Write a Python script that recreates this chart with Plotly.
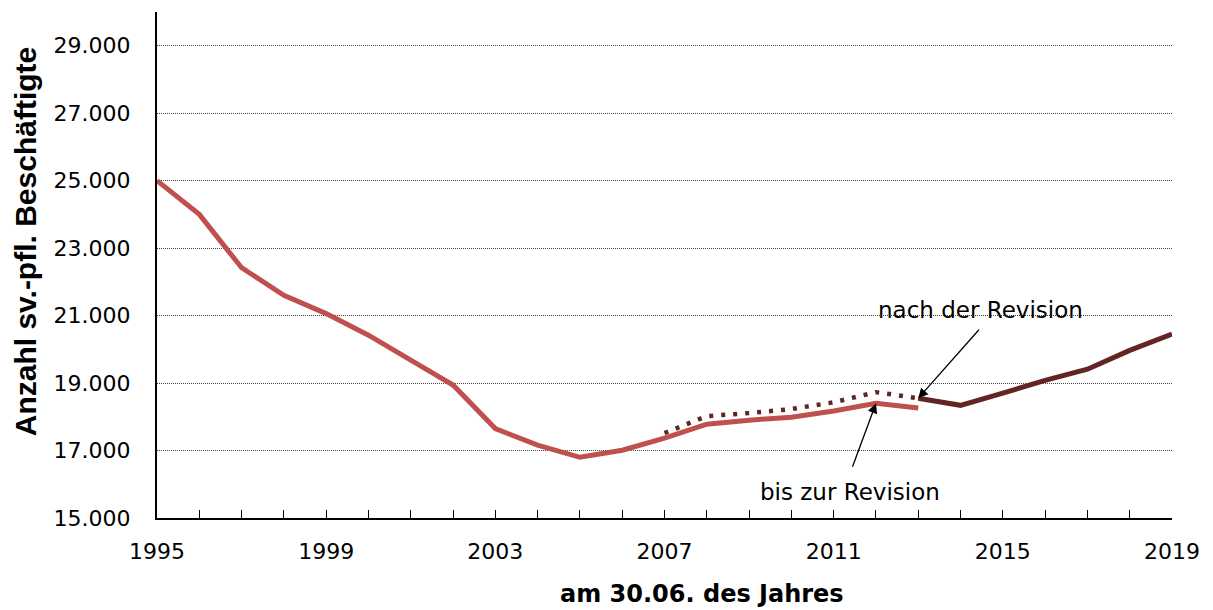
import plotly.graph_objects as go

years_old = list(range(1995, 2014))
values_old = [25000, 24000, 22420, 21600, 21060, 20420, 19680, 18940, 17650, 17160,
              16800, 17010, 17370, 17780, 17900, 17990, 18170, 18400, 18260]

years_rev = list(range(2007, 2014))
values_rev = [17520, 18020, 18110, 18230, 18430, 18730, 18550]

years_new = list(range(2013, 2020))
values_new = [18550, 18340, 18700, 19080, 19410, 19970, 20450]

y_ticks = [15000, 17000, 19000, 21000, 23000, 25000, 27000, 29000]
x_ticks = [1995, 1999, 2003, 2007, 2011, 2015, 2019]

RED = "#C0504D"
DARK = "#632523"
FONT = "DejaVu Sans, Liberation Sans, Arial, sans-serif"
FONT_T = "Liberation Sans, Arial, sans-serif"

fig = go.Figure()
fig.add_trace(go.Scatter(x=years_old, y=values_old, mode="lines",
                         line=dict(color=RED, width=5), showlegend=False))
fig.add_trace(go.Scatter(x=years_rev, y=values_rev, mode="lines",
                         line=dict(color=DARK, width=4.5, dash="4px,8px"), showlegend=False))
fig.add_trace(go.Scatter(x=years_new, y=values_new, mode="lines",
                         line=dict(color=DARK, width=5), showlegend=False))

fig.update_layout(
    width=1205, height=602,
    margin=dict(l=149, r=41, t=4, b=92),
    paper_bgcolor="white", plot_bgcolor="white",
    separators=",.",
    font=dict(family=FONT, size=22, color="black"),
    xaxis=dict(range=[1995, 2019], tickvals=x_ticks, ticks="inside", ticklen=8,
               tickcolor="black", tickwidth=1, showline=True, linecolor="black", linewidth=2,
               showgrid=False, zeroline=False, ticklabelstandoff=13,
               tickfont=dict(family=FONT, size=22),
               minor=dict(dtick=1, ticks="inside", ticklen=8, tickcolor="black",
                          tickwidth=1, showgrid=False)),
    yaxis=dict(range=[15000, 30000], tickvals=y_ticks, tickformat=",d", ticks="",
               showline=True, linecolor="black", linewidth=2, zeroline=False,
               showgrid=True, gridcolor="#444444", griddash="1px,1px", gridwidth=1,
               ticklabelstandoff=20, tickfont=dict(family=FONT, size=22)),
)

# axis titles
fig.add_annotation(x=0.537, y=0, xref="paper", yref="paper", yshift=-76,
                   text="<b>am 30.06. des Jahres</b>", showarrow=False,
                   xanchor="center", yanchor="middle",
                   font=dict(family=FONT, size=24, color="black"))
fig.add_annotation(x=-0.130, y=0.547, xref="paper", yref="paper", textangle=-90,
                   text="<b>Anzahl sv.-pfl. Beschäftigte</b>", showarrow=False,
                   xanchor="center", yanchor="middle",
                   font=dict(family=FONT_T, size=30, color="black"))

# revision annotations with arrows
fig.add_annotation(x=2013, y=18550, xref="x", yref="y", ax=62, ay=-70,
                   text="", showarrow=True, arrowhead=2, arrowsize=1.5, arrowwidth=1.3,
                   arrowcolor="black")
fig.add_annotation(x=2014.48, y=21156, xref="x", yref="y",
                   text="nach der Revision", showarrow=False, yanchor="middle",
                   font=dict(family=FONT, size=23, color="black"))
fig.add_annotation(x=2012, y=18400, xref="x", yref="y", ax=-24, ay=65,
                   text="", showarrow=True, arrowhead=2, arrowsize=1.5, arrowwidth=1.3,
                   arrowcolor="black")
fig.add_annotation(x=2011.39, y=15770, xref="x", yref="y",
                   text="bis zur Revision", showarrow=False, yanchor="middle",
                   font=dict(family=FONT, size=23, color="black"))

fig.write_html("out.html")
